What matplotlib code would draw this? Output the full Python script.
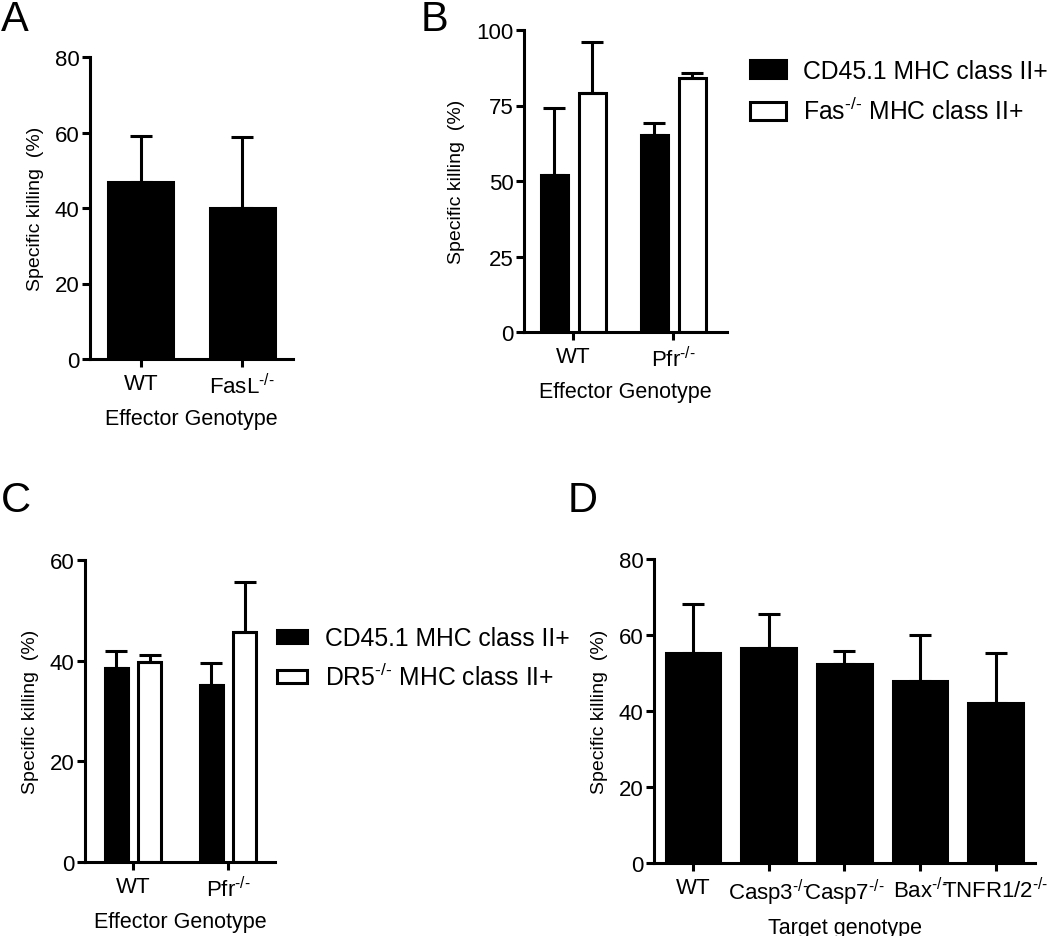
import matplotlib
matplotlib.use("Agg")
import matplotlib.pyplot as plt
import numpy as np
from matplotlib.patches import Patch

plt.rcParams['font.family'] = ['Liberation Sans', 'DejaVu Sans']
plt.rcParams['mathtext.fontset'] = 'custom'
plt.rcParams['mathtext.rm'] = 'Liberation Sans'
plt.rcParams['mathtext.it'] = 'Liberation Sans:italic'
plt.rcParams['mathtext.bf'] = 'Liberation Sans:bold'

SUP = r'$^{\text{-/-}}$'

# Panel A
a_cats = ['WT', 'FasL' + SUP]
a_mean = [47, 40]
a_err = [12, 18.8]

# Panel B
b_cats = ['WT', 'Pfr' + SUP]
b_cd45 = [52, 65.3]
b_cd45_err = [22.2, 3.9]
b_fas = [79.1, 84]
b_fas_err = [16.9, 1.8]
b_labels = ['CD45.1 MHC class II+', 'Fas' + SUP + ' MHC class II+']

# Panel C
c_cats = ['WT', 'Pfr' + SUP]
c_cd45 = [38.6, 35.2]
c_cd45_err = [3.4, 4.4]
c_dr5 = [39.8, 45.7]
c_dr5_err = [1.3, 10.0]
c_labels = ['CD45.1 MHC class II+', 'DR5' + SUP + ' MHC class II+']

# Panel D
d_cats = ['WT', 'Casp3' + SUP, 'Casp7' + SUP, 'Bax' + SUP, 'TNFR1/2' + SUP]
d_mean = [55.3, 56.6, 52.4, 47.9, 42.1]
d_err = [12.9, 8.9, 3.4, 12.1, 13.2]

W, H = 1050, 937
fig = plt.figure(figsize=(W / 100, H / 100), dpi=100)

LW = 2.2
TICKFS = 16
XLABFS = 15.5
YLABFS = 14
LEGFS = 17.8


def make_ax(l, r, t, b):
    return fig.add_axes([l / W, 1 - b / H, (r - l) / W, (b - t) / H])


def style(ax, ylim, yticks, xlim, xticks, xlabels, xlabel):
    ax.set_ylim(*ylim)
    ax.set_yticks(yticks)
    ax.set_xlim(*xlim)
    ax.set_xticks(xticks)
    ax.set_xticklabels(xlabels)
    for s in ['top', 'right']:
        ax.spines[s].set_visible(False)
    for s in ['left', 'bottom']:
        ax.spines[s].set_linewidth(LW)
    ax.tick_params(axis='y', direction='out', length=6, width=LW, labelsize=TICKFS, pad=1.5)
    ax.tick_params(axis='x', direction='out', length=6, width=LW, labelsize=TICKFS, pad=4)
    ax.set_ylabel('Specific killing  (%)', fontsize=YLABFS, labelpad=8)
    if xlabel:
        ax.set_xlabel(xlabel, fontsize=XLABFS, labelpad=7)


def bars(ax, x, y, err, width, fc):
    x = np.asarray(x, dtype=float)
    ax.bar(x, y, width=width, color=fc, edgecolor='black', linewidth=LW, zorder=2)
    ax.errorbar(x, y, yerr=[np.zeros(len(y)), err], fmt='none', ecolor='black',
                elinewidth=LW, capsize=8, capthick=LW, zorder=3)


# ---- A ----
axA = make_ax(90, 293, 58, 360)
xa = np.arange(len(a_cats))
bars(axA, xa, a_mean, a_err, 0.64, 'black')
style(axA, (0, 80), [0, 20, 40, 60, 80], (-0.5, 1.5), xa, a_cats, 'Effector Genotype')

# ---- B ----
axB = make_ax(524, 727, 31, 333)
xb = np.arange(len(b_cats))
bars(axB, xb - 0.19, b_cd45, b_cd45_err, 0.27, 'black')
bars(axB, xb + 0.19, b_fas, b_fas_err, 0.27, 'white')
style(axB, (0, 100), [0, 25, 50, 75, 100], (-0.49, 1.54), xb, b_cats, 'Effector Genotype')
hb = [Patch(facecolor='black', edgecolor='black', linewidth=LW),
      Patch(facecolor='white', edgecolor='black', linewidth=LW)]
axB.legend(hb, b_labels, loc='upper left', bbox_to_anchor=(750 / W, 1 - 60 / H),
           bbox_transform=fig.transFigure, frameon=False, fontsize=LEGFS,
           handlelength=1.45, handleheight=0.75, handletextpad=0.7,
           labelspacing=0.58, borderpad=0, borderaxespad=0)

# ---- C ----
axC = make_ax(85, 275, 561, 863)
xc = np.arange(len(c_cats))
bars(axC, xc - 0.175, c_cd45, c_cd45_err, 0.24, 'black')
bars(axC, xc + 0.175, c_dr5, c_dr5_err, 0.24, 'white')
style(axC, (0, 60), [0, 20, 40, 60], (-0.505, 1.495), xc, c_cats, 'Effector Genotype')
hc = [Patch(facecolor='black', edgecolor='black', linewidth=LW),
      Patch(facecolor='white', edgecolor='black', linewidth=LW)]
axC.legend(hc, c_labels, loc='upper left', bbox_to_anchor=(277 / W, 1 - 627 / H),
           bbox_transform=fig.transFigure, frameon=False, fontsize=LEGFS,
           handlelength=1.2, handleheight=0.45, handletextpad=0.75,
           labelspacing=0.52, borderpad=0, borderaxespad=0)

# ---- D ----
axD = make_ax(654, 1035, 560, 864)
xd = np.arange(len(d_cats))
bars(axD, xd, d_mean, d_err, 0.72, 'black')
style(axD, (0, 80), [0, 20, 40, 60, 80], (-0.516, 4.52), xd, d_cats, 'Target genotype')

# Panel letters
for letter, x, y in [('A', 1, 0), ('B', 421, 0), ('C', 1, 481), ('D', 568, 481)]:
    fig.text(x / W, 1 - y / H, letter, fontsize=30, ha='left', va='top')

fig.savefig('out.png', dpi=100)
